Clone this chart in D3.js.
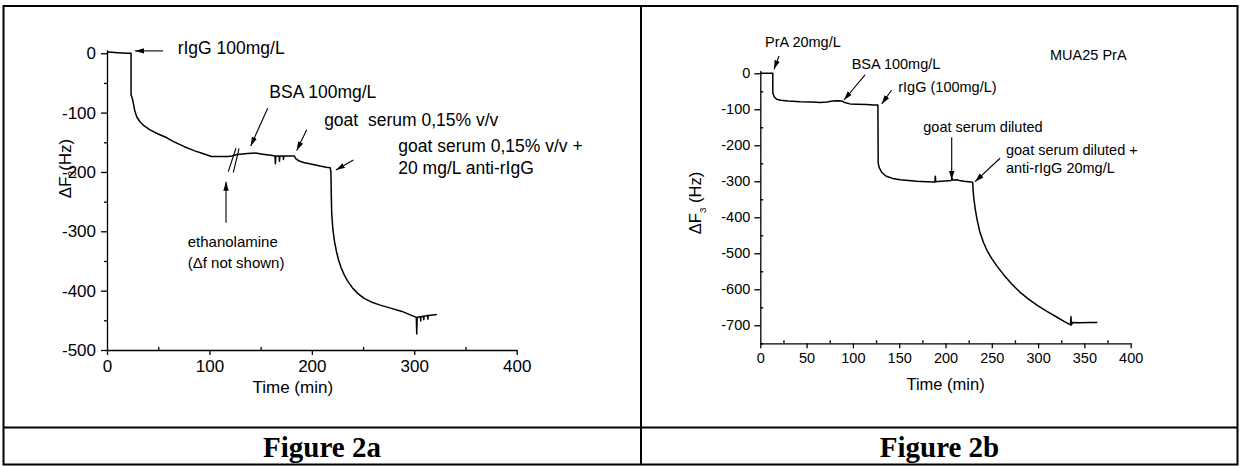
<!DOCTYPE html>
<html>
<head>
<meta charset="utf-8">
<script src="https://cdn.jsdelivr.net/npm/d3@7"></script>
<style>
  body { margin: 0; background: #fff; }
  text { font-family: "Liberation Sans", Arial, sans-serif; fill: #000; }
</style>
</head>
<body>
<svg id="fig" width="1241" height="466"></svg>
<script>

// Figure 2a: [time (min), delta F3 (Hz)]
const seriesA = [
  [0,2],[5,1.5],[10,1],[15,0.5],[20,0],[23.5,0],[23.5,-70],[25,-78],[25.7,-84],[27,-96],
  [29,-107],[32,-115],[36,-122],[42,-129],[50,-136],[58,-142],[65,-149],[75,-157],
  [85,-164],[92,-168],[97,-171],[102,-174],[110,-174],[118,-174],[122,-173],[126,-171],
  [130,-170],[137,-169],[145,-168],[152,-170],[160,-172],[164,-173],[164.4,-186],
  [164.8,-173],[168,-173],[168.4,-182],[168.8,-173],[172,-173],[172.3,-179],[172.6,-173],
  [183,-173],[184,-177],[187,-181],[192,-184],[200,-187],[208,-190],[214,-192],[218,-193],
  [218.6,-200],[219,-240],[219.4,-270],[220.5,-296],[222,-316],[224,-334],[226,-348],
  [228.5,-361],[231.5,-373],[235,-384],[239.5,-395],[245,-405],[251,-413],[258,-419],
  [266,-424],[276,-429],[288,-435],[302,-445],
  [302.4,-473],[302.8,-445],[306,-444],[306.3,-451],[306.6,-444],[309,-443],[309.3,-449],
  [309.6,-443],[313,-442],[313.3,-448],[313.6,-442],[318,-441],[322,-440]
];

// Figure 2b: [time (min), delta F3 (Hz)]
const seriesB = [
  [0,0],[5,0],[13.5,0],[13.5,-55],[15,-65],[17.7,-72],[22,-75],[30,-77],[43,-79],
  [55,-80],[65,-81],[72,-80],[78,-77],[84,-76],[88,-77],[92,-82],[97,-85],[104,-86],
  [115,-87],[122,-88],[127,-88],[127.3,-250],[128.5,-262],[131,-275],[136,-286],
  [143,-292],[151,-296],[160,-298],[169,-300],[180,-301],[188.5,-302],[189,-286],
  [189.5,-301],[195,-300],[200,-299],[206,-298],[207,-292],[208,-297],[212,-296],
  [215,-298],[220,-300],[229.4,-303],[229.8,-325],[230.5,-345],[232,-375],[234,-405],
  [237,-440],[241,-470],[245,-493],[250,-515],[256,-537],[263,-560],[271,-584],
  [280,-607],[290,-628],[300,-646],[310,-662],[320,-677],[328,-689],[335,-699],
  [335.5,-676],[336,-699],[337,-692],[345,-693],[355,-692],[364,-692]
];

const xTicksA = [0, 100, 200, 300, 400];
const xMinorA = [50, 150, 250, 350];
const yTicksA = [0, -100, -200, -300, -400, -500];
const yMinorA = [-50, -150, -250, -350, -450];

const xTicksB = [0, 50, 100, 150, 200, 250, 300, 350, 400];
const xMinorB = [25, 75, 125, 175, 225, 275, 325, 375];
const yTicksB = [0, -100, -200, -300, -400, -500, -600, -700];
const yMinorB = [-50, -150, -250, -350, -450, -550, -650, -750];

// annotations, in data units: text lines at (t, v)
const notesA = [
  { lines: ["rIgG 100mg/L"], t: 69, v: -1 },
  { lines: ["BSA 100mg/L"], t: 158.5, v: -76 },
  { lines: ["goat  serum 0,15% v/v"], t: 212, v: -122.5 },
  { lines: ["goat serum 0,15% v/v +", "20 mg/L anti-rIgG"], t: 284.4, v: -167 },
  { lines: ["ethanolamine", "(\u0394f not shown)"], t: 78.8, v: -326, small: true }
];
const arrowsA = [
  [54.7, 4, 27.3, 4],
  [156.9, -92.7, 140.3, -156.2],
  [195, -129, 185.2, -164],
  [240.5, -180, 223.6, -196.7],
  [116.2, -285.5, 116.2, -216.4]
];
const breaksA = [
  [118.4, -199.5, 125.9, -160.1],
  [123.3, -201.2, 128.9, -160.1]
];

const notesB = [
  { lines: ["PrA 20mg/L"], t: 5.1, v: 72 },
  { lines: ["BSA 100mg/L"], t: 98.7, v: 11 },
  { lines: ["rIgG (100mg/L)"], t: 149, v: -51 },
  { lines: ["goat serum diluted"], t: 176, v: -162 },
  { lines: ["goat serum diluted +", "anti-rIgG 20mg/L"], t: 265.3, v: -227 },
  { lines: ["MUA25 PrA"], t: 312.9, v: 37 }
];
const arrowsB = [
  [20.2, 48, 14.8, 11],
  [113.1, -4.7, 90.4, -74.2],
  [141.9, -46.4, 131.1, -85.3],
  [206.7, -177.8, 206.7, -296.4],
  [258.9, -236, 231.9, -301]
];


const svg = d3.select("#fig");

svg.append("defs").append("marker")
    .attr("id", "arrow")
    .attr("viewBox", "0 0 10 10")
    .attr("refX", 10)
    .attr("refY", 5)
    .attr("markerWidth", 9)
    .attr("markerHeight", 9)
    .attr("markerUnits", "userSpaceOnUse")
    .attr("orient", "auto")
  .append("path")
    .attr("d", "M0,2 L10,5 L0,8 z")
    .attr("fill", "#000");

// table frame
const frame = svg.append("g").attr("stroke", "#000").attr("stroke-width", 2);
frame.append("rect").attr("x", 3.5).attr("y", 6).attr("width", 1234).attr("height", 458.5)
    .attr("fill", "none");
frame.append("line").attr("x1", 641).attr("x2", 641).attr("y1", 6).attr("y2", 464.5);
frame.append("line").attr("x1", 3.5).attr("x2", 1237.5).attr("y1", 427.5).attr("y2", 427.5);

svg.append("text").attr("x", 322).attr("y", 456.5)
    .attr("text-anchor", "middle")
    .style("font-family", "'Liberation Serif', 'Times New Roman', serif")
    .style("font-weight", "bold").style("font-size", "29px")
    .text("Figure 2a");
svg.append("text").attr("x", 939.5).attr("y", 456.5)
    .attr("text-anchor", "middle")
    .style("font-family", "'Liberation Serif', 'Times New Roman', serif")
    .style("font-weight", "bold").style("font-size", "29px")
    .text("Figure 2b");


// plain hyphen for negative labels, as in the original plots
const plain = d => String(d);

function drawPanel(p)
{
  const x = d3.scaleLinear().domain(p.xDomain).range(p.xRange);
  const y = d3.scaleLinear().domain(p.yDomain).range(p.yRange);
  const g = svg.append("g");

  // minor ticks first, without labels
  g.append("g")
      .attr("transform", "translate(0," + p.yRange[0] + ")")
      .call(d3.axisBottom(x).tickValues(p.xMinor).tickSize(-3).tickSizeOuter(0).tickFormat(""))
      .call(a => a.select(".domain").remove());
  g.append("g")
      .attr("transform", "translate(" + p.xRange[0] + ",0)")
      .call(d3.axisLeft(y).tickValues(p.yMinor).tickSize(p.yMinorIn ? -3 : 3).tickSizeOuter(0).tickFormat(""))
      .call(a => a.select(".domain").remove());

  const xAxis = g.append("g")
      .attr("transform", "translate(0," + p.yRange[0] + ")")
      .call(d3.axisBottom(x).tickValues(p.xTicks).tickSize(5).tickSizeOuter(0)
          .tickPadding(p.xPad).tickFormat(plain));
  const yAxis = g.append("g")
      .attr("transform", "translate(" + p.xRange[0] + ",0)")
      .call(d3.axisLeft(y).tickValues(p.yTicks).tickSize(6).tickSizeOuter(0)
          .tickPadding(p.yPad).tickFormat(plain));

  g.selectAll(".domain, .tick line").attr("stroke", "#000").attr("stroke-width", 1.3);
  [xAxis, yAxis].forEach(a => a.selectAll("text")
      .style("font-size", p.tickFont + "px")
      .style("font-family", "'Liberation Sans', Arial, sans-serif")
      .attr("fill", "#000"));

  // x title
  g.append("text")
      .attr("x", p.xTitle[0]).attr("y", p.xTitle[1])
      .attr("text-anchor", "middle")
      .style("font-size", p.titleFont + "px")
      .text("Time (min)");

  // y title
  const yt = g.append("text")
      .attr("transform", "translate(" + p.yTitle[0] + "," + p.yTitle[1] + ") rotate(-90)")
      .attr("text-anchor", "middle")
      .style("font-size", p.titleFont + "px");
  yt.append("tspan").text("\u0394F");
  yt.append("tspan").attr("dy", 5).style("font-size", (p.titleFont * 0.6) + "px").text("3");
  yt.append("tspan").attr("dy", -5).text(p.yTitleGap + "(Hz)");

  // data line
  const line = d3.line().x(d => x(d[0])).y(d => y(d[1]));
  g.append("path")
      .datum(p.data)
      .attr("d", line)
      .attr("fill", "none")
      .attr("stroke", "#000")
      .attr("stroke-width", 1.5)
      .attr("stroke-linejoin", "round");

  // arrows
  g.selectAll(".arrow")
      .data(p.arrows)
      .enter()
      .append("line")
        .attr("x1", d => x(d[0])).attr("y1", d => y(d[1]))
        .attr("x2", d => x(d[2])).attr("y2", d => y(d[3]))
        .attr("stroke", "#000")
        .attr("stroke-width", 1.1)
        .attr("marker-end", "url(#arrow)");

  // axis break marks
  g.selectAll(".brk")
      .data(p.breaks || [])
      .enter()
      .append("line")
        .attr("x1", d => x(d[0])).attr("y1", d => y(d[1]))
        .attr("x2", d => x(d[2])).attr("y2", d => y(d[3]))
        .attr("stroke", "#000")
        .attr("stroke-width", 1.1);

  // annotation texts
  p.notes.forEach(n =>
  {
    const t = g.append("text")
        .attr("x", x(n.t)).attr("y", y(n.v))
        .style("font-size", (n.small ? p.smallFont : p.noteFont) + "px");
    n.lines.forEach((s, i) =>
    {
      t.append("tspan")
          .attr("x", x(n.t))
          .attr("dy", i === 0 ? 0 : p.lineGap)
          .style("white-space", "pre")
          .text(s);
    });
  });
}


drawPanel({
  data: seriesA,
  xDomain: [0, 400], xRange: [107, 516.7],
  yDomain: [-500, 6], yRange: [350, 49.7],
  xTicks: xTicksA, xMinor: xMinorA, yTicks: yTicksA, yMinor: yMinorA,
  yMinorIn: false,
  xPad: 5, yPad: 5,
  tickFont: 17, titleFont: 17, noteFont: 17.5, smallFont: 15, lineGap: 21.5,
  xTitle: [292.8, 392.7], yTitle: [71, 168.5], yTitleGap: "",
  notes: notesA, arrows: arrowsA, breaks: breaksA
});

drawPanel({
  data: seriesB,
  xDomain: [0, 400], xRange: [760.3, 1130.7],
  yDomain: [-750, 8], yRange: [343.3, 70.4],
  xTicks: xTicksB, xMinor: xMinorB, yTicks: yTicksB, yMinor: yMinorB,
  yMinorIn: true,
  xPad: 4, yPad: 4,
  tickFont: 14.5, titleFont: 16.5, noteFont: 14.5, smallFont: 14.5, lineGap: 18.3,
  xTitle: [945.6, 390], yTitle: [701, 203], yTitleGap: " ",
  notes: notesB, arrows: arrowsB
});

</script>
</body>
</html>
